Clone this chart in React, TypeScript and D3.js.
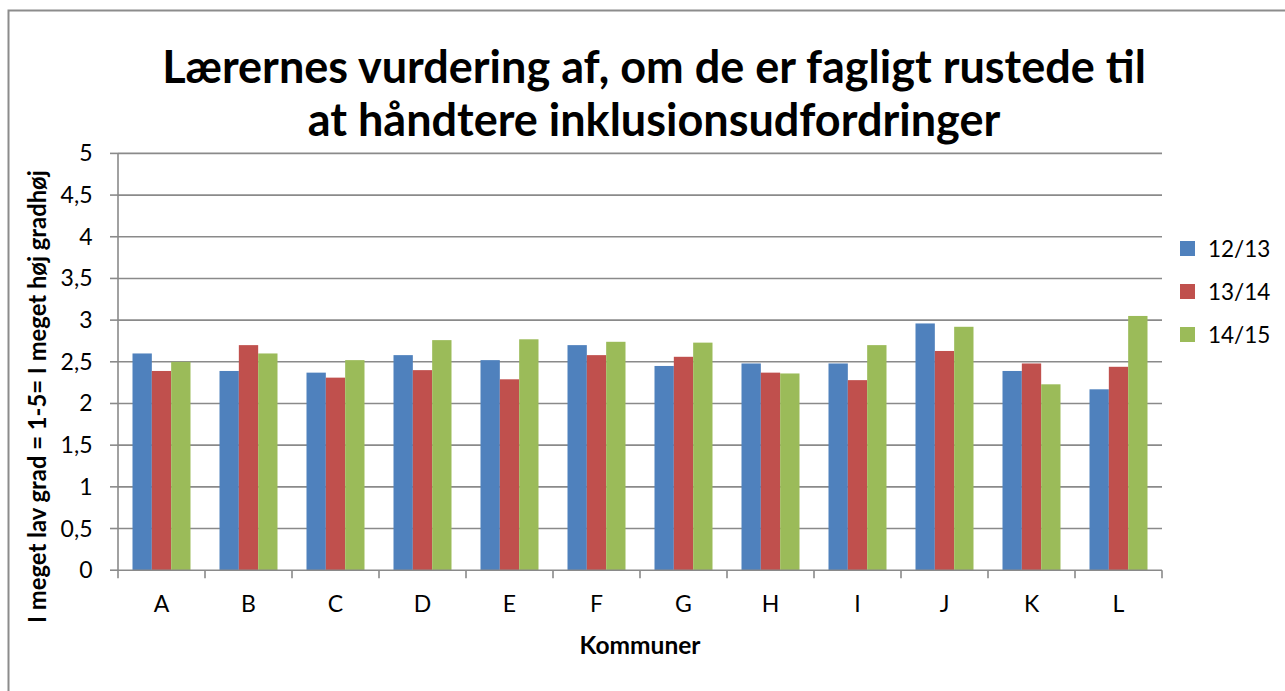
import React from "react";
import * as d3 from "d3";

const categories = ["A", "B", "C", "D", "E", "F", "G", "H", "I", "J", "K", "L"];
const seriesNames = ["12/13", "13/14", "14/15"];
const values1213 = [2.6, 2.39, 2.37, 2.58, 2.52, 2.7, 2.45, 2.48, 2.48, 2.96, 2.39, 2.17];
const values1314 = [2.39, 2.7, 2.31, 2.4, 2.29, 2.58, 2.56, 2.37, 2.28, 2.63, 2.48, 2.44];
const values1415 = [2.5, 2.6, 2.52, 2.76, 2.77, 2.74, 2.73, 2.36, 2.7, 2.92, 2.23, 3.05];
const yTicks = [0, 0.5, 1, 1.5, 2, 2.5, 3, 3.5, 4, 4.5, 5];
const colors = ["#4F81BD", "#C0504D", "#9BBB59"];
const titleLines = ["Lærernes vurdering af, om de er fagligt rustede til", "at håndtere inklusionsudfordringer"];

const W = 1285;
const H = 691;
const FONT = "Lato, 'Open Sans', sans-serif";

export default function App() {
  const series = [values1213, values1314, values1415];
  const left = 118, right = 1162, top = 153.4, bottom = 570.2;
  const x = d3.scaleBand<string>().domain(categories).range([left, right]).paddingInner(1 / 3).paddingOuter(1 / 6);
  const xi = d3.scaleBand<string>().domain(seriesNames).range([0, x.bandwidth()]);
  const y = d3.scaleLinear().domain([0, 5]).range([bottom, top]);
  const fmt = (v: number) => String(v).replace(".", ",");
  const step = x.step();
  const boundaries = d3.range(categories.length + 1).map((i) => left + i * step);

  return (
    <svg width={W} height={H} style={{ position: "absolute", left: 0, top: 0, background: "#fff" }}>
      <rect x={8.5} y={10.5} width={W + 20} height={H + 20} fill="#fff" stroke="#8c8c8c" strokeWidth={2} />
      {titleLines.map((t, i) => (
        <text key={t} x={654} y={83 + i * 53} textAnchor="middle" fontFamily={FONT} fontWeight={700} fontSize={45} fill="#000">
          {t}
        </text>
      ))}
      {yTicks.map((t) => (
        <g key={t}>
          {t > 0 && <line x1={left} x2={right} y1={y(t)} y2={y(t)} stroke="#8a8a8a" strokeWidth={1.6} />}
          <line x1={left - 8} x2={left} y1={y(t)} y2={y(t)} stroke="#8a8a8a" strokeWidth={1.6} />
          <text x={92.5} y={y(t) + 8} textAnchor="end" fontFamily={FONT} fontSize={23} fill="#000">
            {fmt(t)}
          </text>
        </g>
      ))}
      {categories.map((c, ci) =>
        series.map((vals, si) => (
          <rect
            key={c + si}
            x={(x(c) as number) + (xi(seriesNames[si]) as number)}
            y={y(vals[ci])}
            width={xi.bandwidth()}
            height={bottom - y(vals[ci])}
            fill={colors[si]}
          />
        ))
      )}
      <line x1={left} x2={left} y1={top} y2={bottom} stroke="#8a8a8a" strokeWidth={1.6} />
      <line x1={left} x2={right} y1={bottom} y2={bottom} stroke="#8a8a8a" strokeWidth={1.6} />
      {boundaries.map((b, i) => (
        <line key={i} x1={b} x2={b} y1={bottom} y2={bottom + 8} stroke="#8a8a8a" strokeWidth={1.6} />
      ))}
      {categories.map((c) => (
        <text key={c} x={(x(c) as number) + x.bandwidth() / 2} y={612} textAnchor="middle" fontFamily={FONT} fontSize={23} fill="#000">
          {c}
        </text>
      ))}
      <text x={640} y={654} textAnchor="middle" fontFamily={FONT} fontWeight={700} fontSize={24.5} fill="#000">
        Kommuner
      </text>
      <text transform={`translate(46,623) rotate(-90)`} textAnchor="start" fontFamily={FONT} fontWeight={700} fontSize={23.8} fill="#000">
        I meget lav grad = 1-5= I meget høj gradhøj
      </text>
      {seriesNames.map((s, i) => (
        <g key={s} transform={`translate(1180,${241 + i * 43})`}>
          <rect width={15} height={15} fill={colors[i]} />
          <text x={28} y={15.5} fontFamily={FONT} fontSize={22.5} fill="#000">
            {s}
          </text>
        </g>
      ))}
    </svg>
  );
}
